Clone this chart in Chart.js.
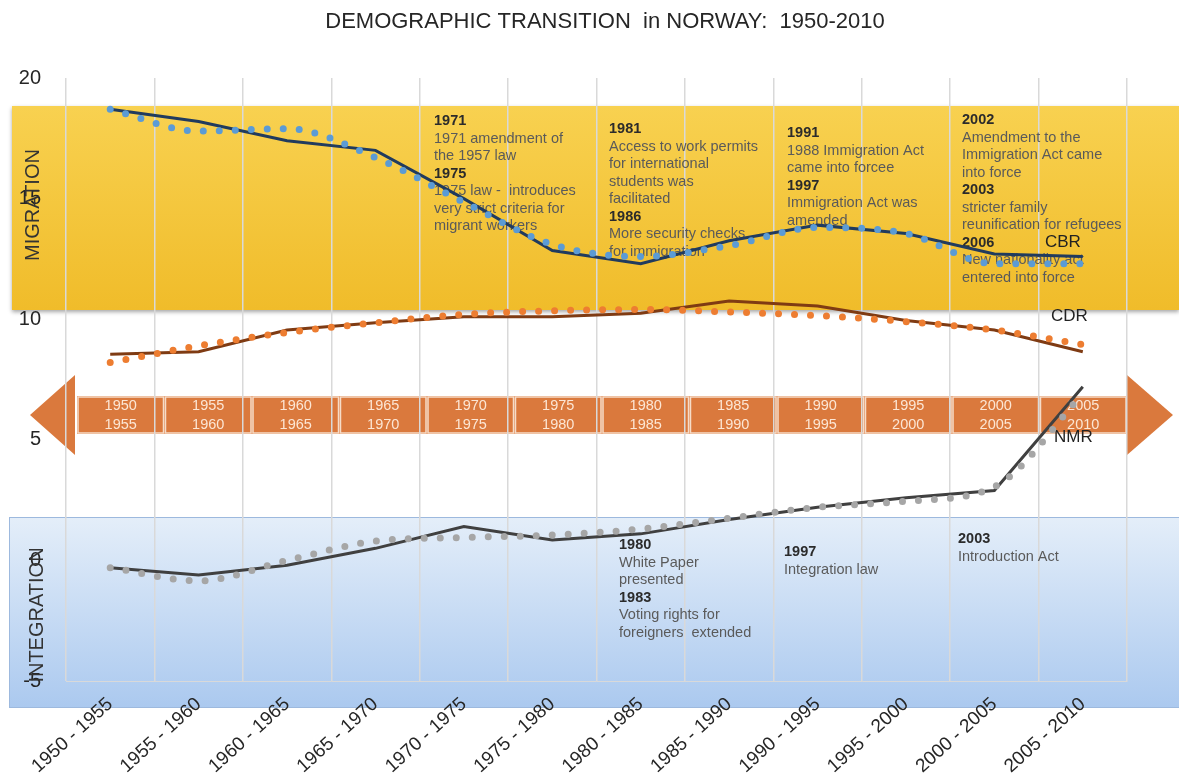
<!DOCTYPE html>
<html>
<head>
<meta charset="utf-8">
<title>Demographic transition in Norway</title>
<script src="https://cdn.jsdelivr.net/npm/chart.js@4.4.1/dist/chart.umd.min.js"></script>
<style>
  html, body { margin: 0; padding: 0; background: #fff; }
</style>
</head>
<body>
<canvas id="chart" width="1179" height="783"></canvas>
<script>
const periods = ["1950 - 1955", "1955 - 1960", "1960 - 1965", "1965 - 1970", "1970 - 1975", "1975 - 1980",
  "1980 - 1985", "1985 - 1990", "1990 - 1995", "1995 - 2000", "2000 - 2005", "2005 - 2010"];

// crude birth rate, crude death rate, net migration rate (per 1000)
const cbr = [18.7, 18.2, 17.4, 17.0, 15.0, 12.85, 12.3, 13.25, 13.9, 13.55, 12.7, 12.6];
const cdr = [8.55, 8.65, 9.55, 9.85, 10.1, 10.1, 10.25, 10.75, 10.55, 9.95, 9.55, 8.65];
const nmr = [-0.3, -0.6, -0.2, 0.5, 1.4, 0.85, 1.1, 1.7, 2.2, 2.6, 2.9, 7.2];

// trend lines (dotted)
const cbrTrend = [18.7, 17.8, 17.9, 16.7, 14.85, 13.1, 12.6, 13.05, 13.8, 13.55, 12.3, 12.3];
const cdrTrend = [8.2, 8.9, 9.45, 9.85, 10.2, 10.35, 10.4, 10.3, 10.15, 9.9, 9.55, 8.95];
const nmrTrend = [-0.3, -0.85, 0.0, 0.8, 0.95, 1.05, 1.3, 1.75, 2.2, 2.45, 3.05, 6.9];

const title = "DEMOGRAPHIC TRANSITION  in NORWAY:  1950-2010";

const migrationNotes = [
  { x: 434, y: 121, lines: ["1971", "1971 amendment of", "the 1957 law", "1975", "1975 law -  introduces", "very strict criteria for", "migrant workers"] },
  { x: 609, y: 129, lines: ["1981", "Access to work permits", "for international", "students was", "facilitated", "1986", "More security checks", "for immigration"] },
  { x: 787, y: 133, lines: ["1991", "1988 Immigration Act", "came into forcee", "1997", "Immigration Act was", "amended"] },
  { x: 962, y: 120, lines: ["2002", "Amendment to the", "Immigration Act came", "into force", "2003", "stricter family", "reunification for refugees", "2006", "New nationality act", "entered into force"] }
];
const integrationNotes = [
  { x: 619, y: 545, lines: ["1980", "White Paper", "presented", "1983", "Voting rights for", "foreigners  extended"] },
  { x: 784, y: 552, lines: ["1997", "Integration law"] },
  { x: 958, y: 539, lines: ["2003", "Introduction Act"] }
];

const FONT = "'Liberation Sans', Arial, sans-serif";

function drawNotes(ctx, notes) {
  ctx.textBaseline = "middle";
  ctx.textAlign = "left";
  notes.forEach((n) => {
    n.lines.forEach((line, i) => {
      const isYear = /^\d{4}$/.test(line);
      ctx.font = (isYear ? "bold " : "") + "14.5px " + FONT;
      ctx.fillStyle = isYear ? "#2b2b2b" : "#5a5a5a";
      ctx.fillText(line, n.x, n.y + i * 17.5);
    });
  });
}

const backdrop = {
  id: "backdrop",
  beforeDraw(chart) {
    const ctx = chart.ctx;
    const area = chart.chartArea;
    const W = chart.width;
    ctx.save();

    // title
    ctx.fillStyle = "#262626";
    ctx.font = "22px " + FONT;
    ctx.textAlign = "center";
    ctx.textBaseline = "middle";
    ctx.fillText(title, 605, 22);

    // migration band
    let g = ctx.createLinearGradient(0, 106, 0, 310);
    g.addColorStop(0, "#f8d150");
    g.addColorStop(1, "#f0bc2a");
    ctx.shadowColor = "rgba(0,0,0,0.35)";
    ctx.shadowBlur = 4;
    ctx.shadowOffsetY = 2;
    ctx.fillStyle = g;
    ctx.fillRect(12, 106, W - 12, 204);
    ctx.shadowColor = "transparent";

    // integration band
    g = ctx.createLinearGradient(0, 517, 0, 708);
    g.addColorStop(0, "#e4eef9");
    g.addColorStop(1, "#abc9ef");
    ctx.fillStyle = g;
    ctx.fillRect(9, 517, W - 9, 191);
    ctx.strokeStyle = "#9db9de";
    ctx.lineWidth = 1;
    ctx.strokeRect(9.5, 517.5, W, 190);

    // timeline arrow
    const orange = "#da793d";
    ctx.fillStyle = orange;
    ctx.beginPath();
    ctx.moveTo(30, 415); ctx.lineTo(75, 375); ctx.lineTo(75, 455); ctx.closePath();
    ctx.fill();
    ctx.beginPath();
    ctx.moveTo(area.right, 375); ctx.lineTo(area.right + 46, 415); ctx.lineTo(area.right, 455); ctx.closePath();
    ctx.fill();
    const x0 = 77, x1 = area.right, segW = (x1 - x0) / periods.length;
    ctx.strokeStyle = "#f6dcc8";
    ctx.lineWidth = 1.5;
    periods.forEach((p, i) => {
      const sx = x0 + i * segW;
      ctx.fillStyle = orange;
      ctx.fillRect(sx, 396, segW, 38);
      ctx.strokeRect(sx + 1, 397, segW - 2, 36);
      const [a, b] = p.split(" - ");
      ctx.fillStyle = "#fce6d4";
      ctx.font = "14.5px " + FONT;
      ctx.textAlign = "center";
      ctx.textBaseline = "middle";
      ctx.fillText(a, sx + segW / 2, 406);
      ctx.fillText(b, sx + segW / 2, 425);
    });
    ctx.restore();
  },
  beforeDatasetsDraw(chart) {
    const ctx = chart.ctx;
    ctx.save();
    drawNotes(ctx, migrationNotes);
    drawNotes(ctx, integrationNotes);

    ctx.fillStyle = "#333";
    ctx.font = "20px " + FONT;
    ctx.textAlign = "center";
    ctx.textBaseline = "middle";
    ctx.save();
    ctx.translate(33, 205);
    ctx.rotate(-Math.PI / 2);
    ctx.fillText("MIGRATION", 0, 0);
    ctx.restore();
    ctx.save();
    ctx.translate(37, 615);
    ctx.rotate(-Math.PI / 2);
    ctx.fillText("INTEGRATION", 0, 0);
    ctx.restore();

    ctx.font = "17px " + FONT;
    ctx.fillStyle = "#222";
    ctx.textAlign = "left";
    ctx.fillText("CBR", 1045, 242);
    ctx.fillText("CDR", 1051, 316);
    ctx.fillText("NMR", 1054, 437);
    ctx.restore();
  }
};

const solid = (data, color) => ({
  data: data, borderColor: color, borderWidth: 3, pointRadius: 0, tension: 0, order: 2
});
const dotted = (data, color) => ({
  data: data, borderColor: color, borderWidth: 7, borderDash: [0, 16], borderCapStyle: "round",
  pointRadius: 0, cubicInterpolationMode: "monotone", order: 1
});

new Chart(document.getElementById("chart"), {
  type: "line",
  data: {
    labels: periods,
    datasets: [
      { label: "CBR", ...solid(cbr, "#213b5e") },
      { label: "CBR trend", ...dotted(cbrTrend, "#5b9bd5") },
      { label: "CDR", ...solid(cdr, "#7f3b13") },
      { label: "CDR trend", ...dotted(cdrTrend, "#ed7d31") },
      { label: "NMR", ...solid(nmr, "#404040") },
      { label: "NMR trend", ...dotted(nmrTrend, "#a6a6a6") }
    ]
  },
  options: {
    responsive: false,
    animation: false,
    devicePixelRatio: 1,
    layout: { padding: { left: 0, right: 52, top: 78, bottom: 0 } },
    plugins: {
      legend: { display: false },
      tooltip: { enabled: false },
      title: { display: false }
    },
    scales: {
      x: {
        offset: true,
        grid: { offset: true, color: "#d9d9d9", lineWidth: 1.5, drawTicks: false },
        border: { color: "#d9d9d9" },
        ticks: {
          autoSkip: false, minRotation: 42, maxRotation: 42, padding: 12,
          color: "#262626", font: { family: FONT, size: 19 }
        },
        afterFit: (s) => { s.height = 102; }
      },
      y: {
        min: -5, max: 20,
        grid: { display: false, drawTicks: false },
        border: { display: false },
        ticks: { stepSize: 5, padding: 25, color: "#262626", font: { family: FONT, size: 20 } },
        afterFit: (s) => { s.width = 66; }
      }
    }
  },
  plugins: [backdrop]
});
</script>
</body>
</html>
